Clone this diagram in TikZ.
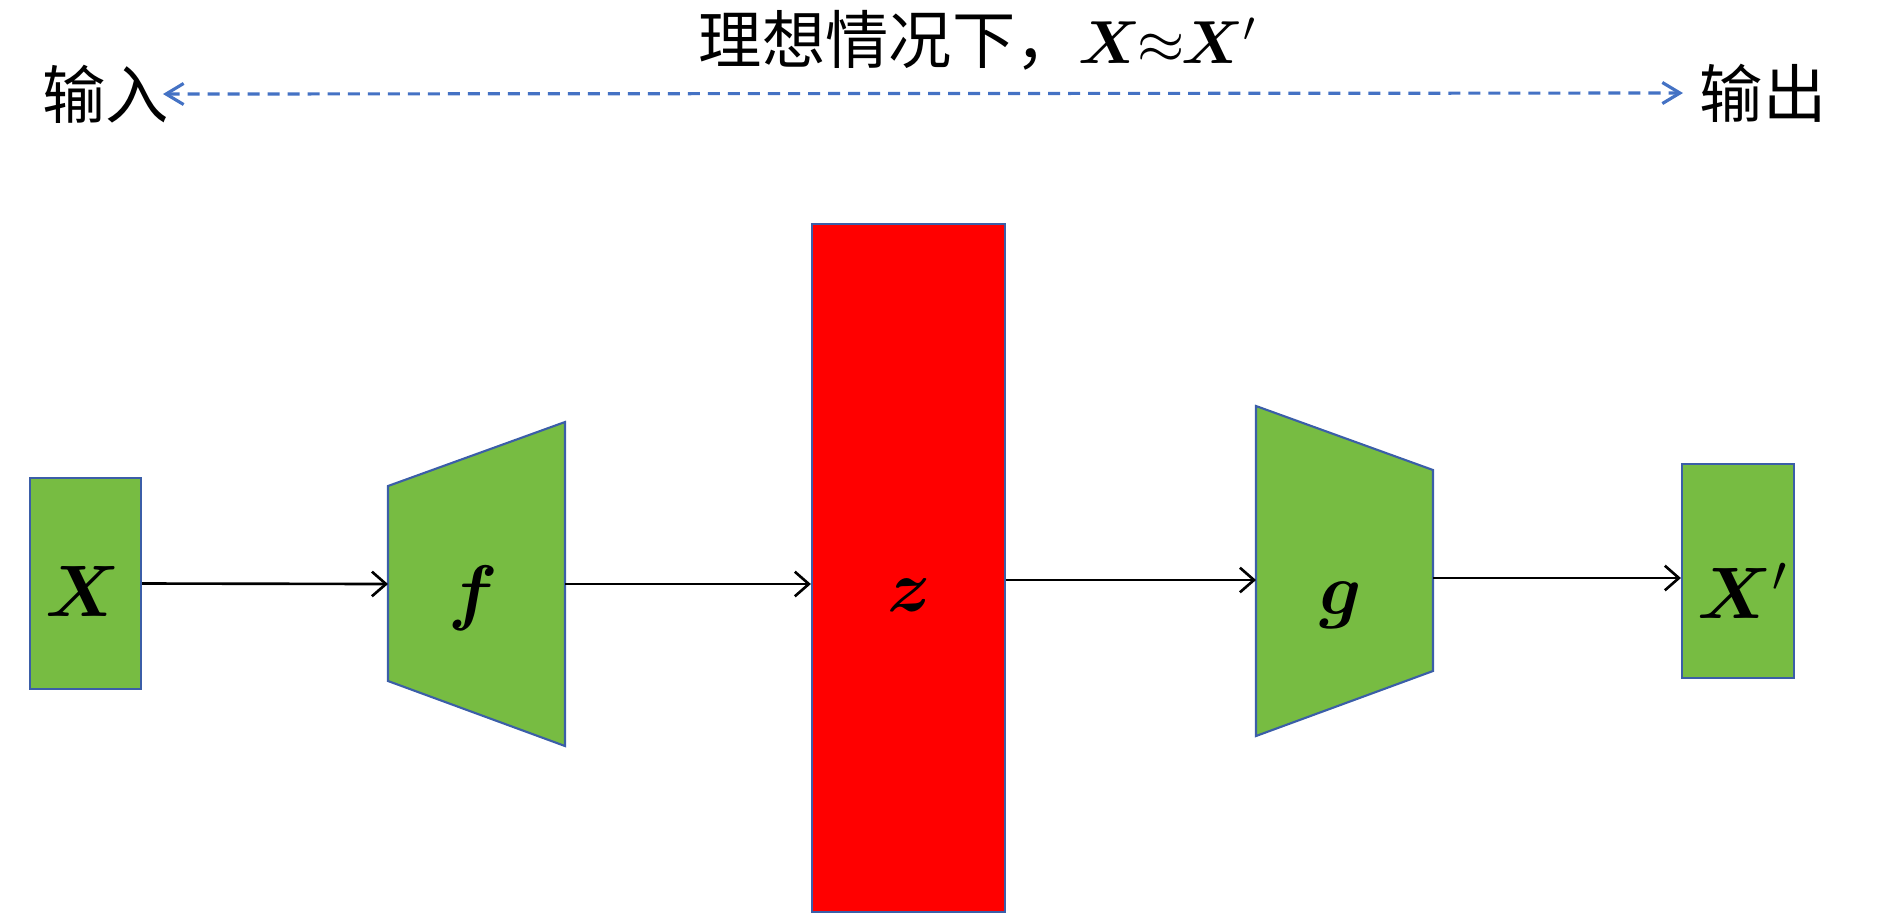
\documentclass[tikz,border=0pt]{standalone}
\usepackage{fontspec}
\usepackage{amsmath}
\usepackage{bm}
\newfontfamily\cjk{Noto Sans CJK SC}
\usetikzlibrary{arrows.meta}
\definecolor{boxgreen}{HTML}{77BC42}
\definecolor{edgeblue}{HTML}{3B5EA8}
\definecolor{dashblue}{HTML}{4472C4}

\begin{document}
\begin{tikzpicture}[x=0.01cm, y=-0.01cm,
    block/.style={draw=edgeblue, line width=0.6pt, inner sep=0pt},
    flow/.style={black, line width=0.75pt, -{Straight Barb[length=4pt,width=7pt]}},
    lbl/.style={font=\fontsize{20pt}{24pt}\selectfont, inner sep=0pt},
    cjktext/.style={font=\cjk\fontsize{18pt}{22pt}\selectfont, inner sep=0pt}]
            \useasboundingbox (0,0) rectangle (1890,917);
            \node[font=\fontsize{18pt}{22pt}\selectfont, inner sep=0pt] (title) at (978,40) {{\cjk 理想情况下，}$\bm{X}\!\!\approx\!\!\bm{X}'$};
            \node[cjktext] (inp) at (106,94) {输入};
            \node[cjktext] (outp) at (1763,93) {输出};
            \draw[dashblue, line width=0.9pt, dash pattern=on 0.12cm off 0.08cm, {Straight Barb[length=5pt,width=6pt]}-{Straight Barb[length=5pt,width=6pt]}] ([xshift=-0.07cm]inp.east) -- ([xshift=-0.16cm]outp.west);
            \node[block, fill=boxgreen, minimum width=1.11cm, minimum height=2.11cm] (Xin) at (85.5,583.5) {};
            \node[block, fill=red, minimum width=1.93cm, minimum height=6.88cm] (zbox) at (908.5,568) {};
            \node[block, fill=boxgreen, minimum width=1.12cm, minimum height=2.14cm] (Xout) at (1738,571) {};
            \draw[block, fill=boxgreen] (388,486) -- (565,422) -- (565,746) -- (388,681) -- cycle;
            \draw[block, fill=boxgreen] (1256,406) -- (1433,470) -- (1433,671) -- (1256,736) -- cycle;
            \coordinate (fin) at (388,584);
            \coordinate (fout) at (565,584);
            \coordinate (gin) at (1256,580);
            \coordinate (gout) at (1433,578);
            \node[lbl] (lX) at (83,591) {$\bm{X}$};
            \node[lbl] (lf) at (473,598) {$\bm{f}$};
            \node[lbl] (lz) at (909,595) {$\bm{z}$};
            \node[lbl] (lg) at (1341,605) {$\bm{g}$};
            \node[lbl] (lXp) at (1743,591) {$\bm{X}'$};
            \draw[flow] (Xin.east) -- (fin);
            \draw[flow] (fout) -- (fout -| zbox.west);
            \draw[flow] (gin -| zbox.east) -- (gin);
            \draw[flow] (gout) -- (gout -| Xout.west);
        \end{tikzpicture}
\end{document}
